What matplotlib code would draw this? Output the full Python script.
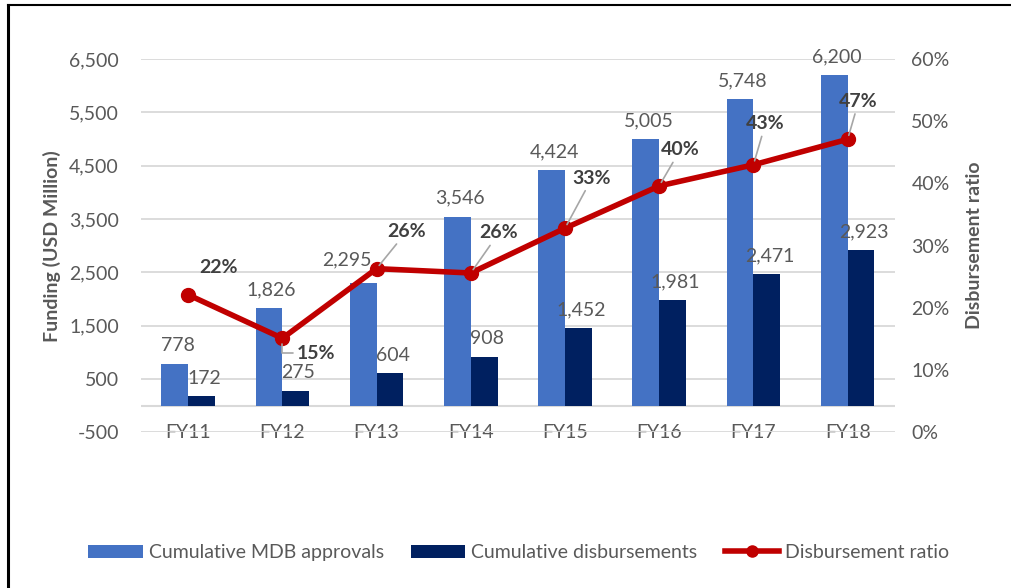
#!/usr/bin/env python3

import matplotlib
matplotlib.use("Agg")
import matplotlib.pyplot as plt
from matplotlib.lines import Line2D
from matplotlib.ticker import FuncFormatter


YEARS = ["FY11", "FY12", "FY13", "FY14", "FY15", "FY16", "FY17", "FY18"]
APPROVALS = [778, 1826, 2295, 3546, 4424, 5005, 5748, 6200]
DISBURSEMENTS = [172, 275, 604, 908, 1452, 1981, 2471, 2923]
RATIO = [0.221, 0.151, 0.263, 0.256, 0.328, 0.396, 0.430, 0.471]
RATIO_LABELS = ["22%", "15%", "26%", "26%", "33%", "40%", "43%", "47%"]

BLUE = "#4472C4"
NAVY = "#002060"
RED = "#C00000"
TEXT = "#595959"
GRID = "#D9D9D9"
FS = 14

# label offsets in pixels (dx, dy) from each ratio point
RATIO_OFFSETS = [(30, 27), (34, -15), (30, 37), (28, 40), (27, 50), (21, 36), (12, 41), (11, 38)]

plt.rcParams["font.family"] = ["Lato", "DejaVu Sans"]

fig = plt.figure(figsize=(10.11, 5.88), dpi=100)
ax = fig.add_axes([0.1395, 0.265, 0.7455, 0.6345])
ax2 = ax.twinx()

x = list(range(len(YEARS)))
w = 0.285
bars1 = ax.bar([i - w / 2 for i in x], APPROVALS, width=w, color=BLUE, label="Cumulative MDB approvals", zorder=2)
bars2 = ax.bar([i + w / 2 for i in x], DISBURSEMENTS, width=w, color=NAVY, label="Cumulative disbursements", zorder=2)

for bars in (bars1, bars2):
    for k, b in enumerate(bars):
        dx, dy = 2, 7
        if bars is bars1 and k == 2:
            # excel nudged this one away from the line
            dx, dy = -12, 11
        ax.annotate(f"{b.get_height():,.0f}", (b.get_x() + b.get_width() / 2, b.get_height()),
                    xytext=(dx, dy), textcoords="offset points", ha="center", va="bottom",
                    fontsize=FS, color=TEXT, zorder=5)

ax.set_xlim(-0.5, len(YEARS) - 0.5)
ax.set_ylim(-500, 6500)
ax.set_yticks(range(-500, 6501, 1000))
ax.yaxis.set_major_formatter(FuncFormatter(lambda v, p: f"{v:,.0f}"))
ax.grid(axis="y", color=GRID, linewidth=1.3, zorder=0)
ax.axhline(0, color=GRID, linewidth=1.5, zorder=1)
ax.set_axisbelow(True)
ax.set_xticks(x)
ax.set_xticklabels(YEARS)
ax.tick_params(axis="x", length=0, pad=-6, labelsize=FS, labelcolor=TEXT)
ax.tick_params(axis="y", length=0, pad=16, labelsize=FS, labelcolor=TEXT)
ax.set_ylabel("Funding (USD Million)", fontsize=FS, fontweight="bold", color=TEXT, labelpad=6)

ax2.plot(x, RATIO, color=RED, linewidth=4, marker="o", markersize=10,
         label="Disbursement ratio", zorder=4)
ax2.set_ylim(0, 0.6)
ax2.set_yticks([i / 10 for i in range(7)])
ax2.yaxis.set_major_formatter(FuncFormatter(lambda v, p: f"{v:.0%}"))
ax2.tick_params(axis="y", length=0, pad=12, labelsize=FS, labelcolor=TEXT)
ax2.set_ylabel("Disbursement ratio", fontsize=FS, fontweight="bold", color=TEXT, labelpad=12)

for i, (val, lab) in enumerate(zip(RATIO, RATIO_LABELS)):
    dx, dy = RATIO_OFFSETS[i]
    if i == 0:
        props = None
    elif dy < 0:
        props = dict(arrowstyle="-", color="#A6A6A6", lw=1.2,
                     connectionstyle="angle,angleA=0,angleB=90", shrinkA=1, shrinkB=4)
    else:
        props = dict(arrowstyle="-", color="#A6A6A6", lw=1.2, shrinkA=1, shrinkB=3)
    ax2.annotate(lab, (i, val), xytext=(dx * 0.72, dy * 0.72), textcoords="offset points",
                 ha="center", va="center", fontsize=FS, fontweight="bold", color="#404040",
                 arrowprops=props, zorder=6)

for a in (ax, ax2):
    for s in a.spines.values():
        s.set_visible(False)

handles = [bars1, bars2, Line2D([], [], color=RED, linewidth=4, marker="o", markersize=8)]
labels = ["Cumulative MDB approvals", "Cumulative disbursements", "Disbursement ratio"]
fig.legend(handles, labels, loc="center", bbox_to_anchor=(0.513, 0.06), ncol=3, frameon=False,
           fontsize=FS, labelcolor=TEXT, handlelength=2.8, handleheight=0.7, columnspacing=1.4,
           handletextpad=0.3)

fig.add_artist(Line2D([0.0075, 0.0075], [0, 0.992], color="black", linewidth=2.2, transform=fig.transFigure))
fig.add_artist(Line2D([0.0075, 1.0], [0.992, 0.992], color="black", linewidth=1.5, transform=fig.transFigure))

fig.savefig("out.png", dpi=100)
